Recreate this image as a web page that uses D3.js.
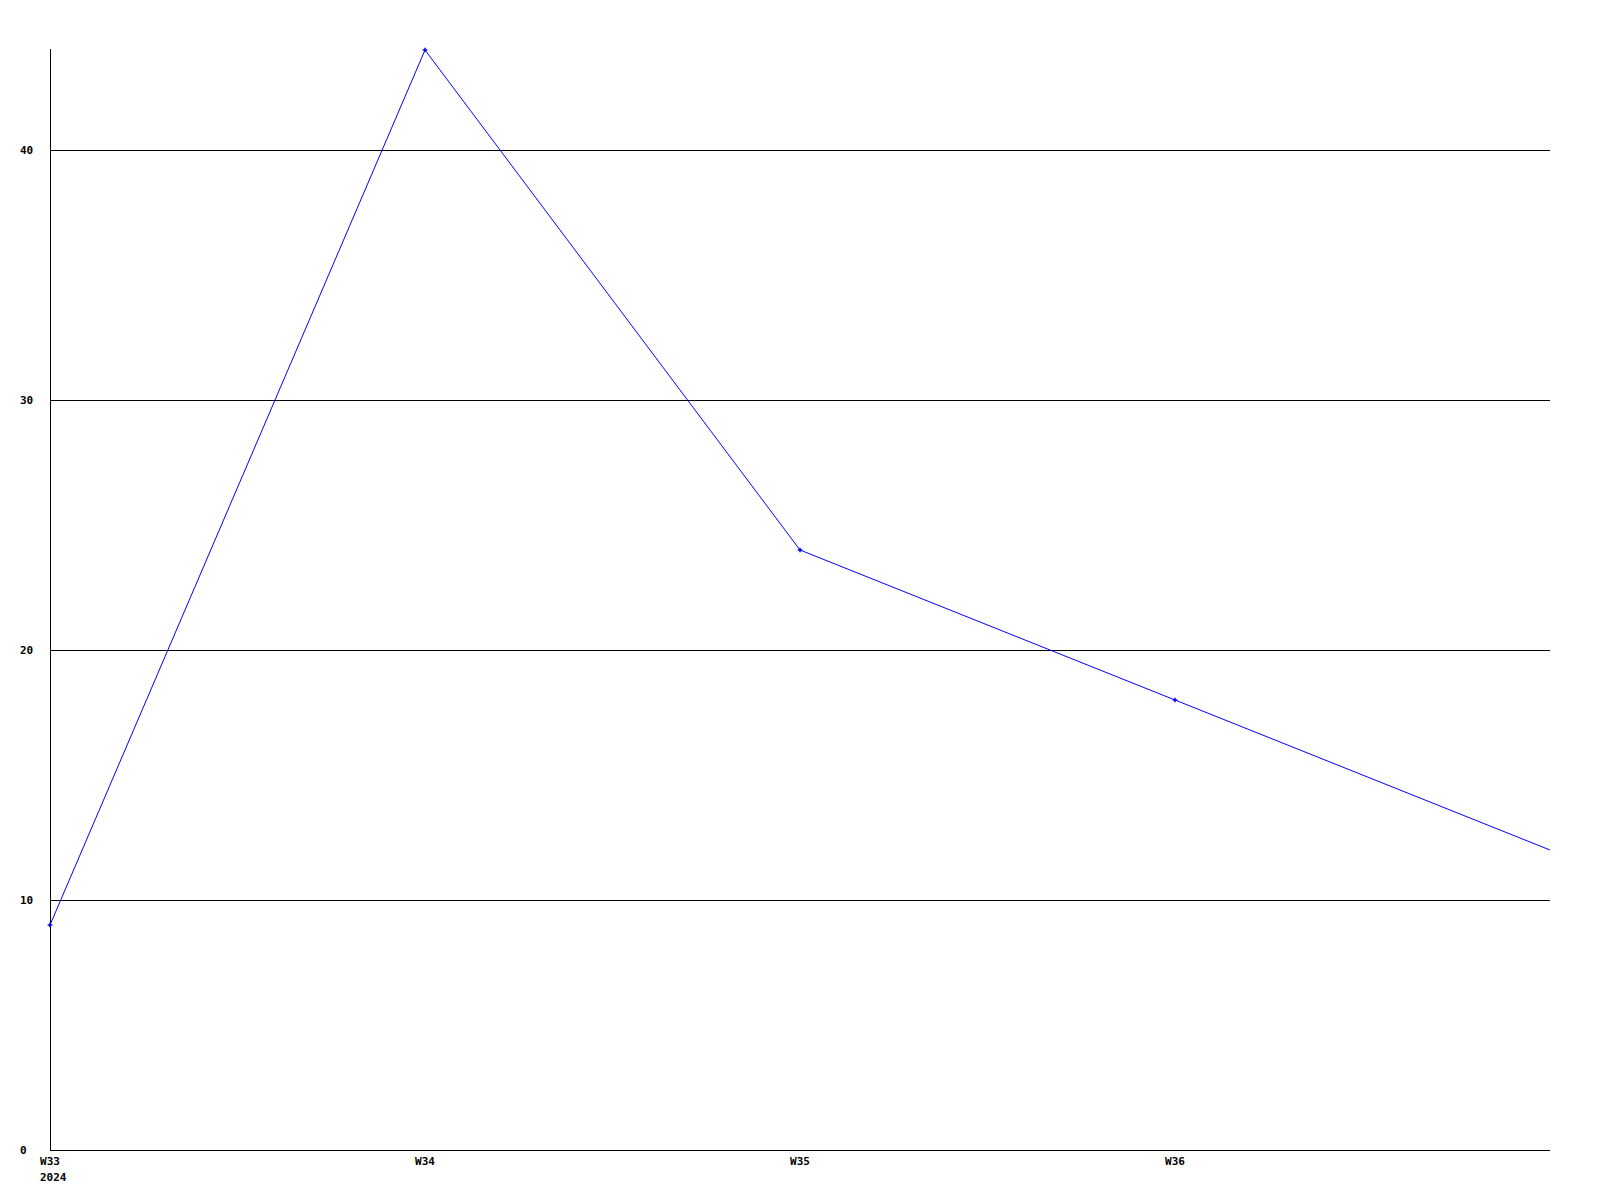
<!DOCTYPE html>
<html><head><meta charset="utf-8">
<script src="https://cdn.jsdelivr.net/npm/d3@7"></script>
<style>html,body{margin:0;padding:0;background:#fff;}</style>
</head><body>
<svg id="chart" width="1600" height="1200"></svg>
<script>
const weeks = ["W33", "W34", "W35", "W36", "W37"];
const values = [9, 44, 24, 18, 12];
const markerShown = [true, true, true, true, false];
const xTickLabels = ["W33", "W34", "W35", "W36"];
const yearLabel = "2024";
const yTicks = [0, 10, 20, 30, 40];

const svg = d3.select("#chart");
const x = d3.scaleLinear().domain([0, 4]).range([50, 1550]);
const y = d3.scaleLinear().domain([0, 44]).range([1150, 50]);
const font = "'DejaVu Sans Mono', monospace";

// gridlines
svg.append("g").selectAll("line").data(yTicks.filter(d => d > 0)).join("line")
  .attr("x1", x(0)).attr("x2", x(4))
  .attr("y1", d => Math.round(y(d)) + 0.5).attr("y2", d => Math.round(y(d)) + 0.5)
  .attr("stroke", "#000").attr("stroke-width", 1).attr("shape-rendering", "crispEdges");

// axes lines
svg.append("line").attr("x1", 50.5).attr("x2", 50.5).attr("y1", 49).attr("y2", 1150.5)
  .attr("stroke", "#000").attr("shape-rendering", "crispEdges");
svg.append("line").attr("x1", 50).attr("x2", 1550).attr("y1", 1150.5).attr("y2", 1150.5)
  .attr("stroke", "#000").attr("shape-rendering", "crispEdges");

// y labels (left-aligned)
svg.append("g").selectAll("text").data(yTicks).join("text")
  .attr("x", 20).attr("y", d => y(d)).attr("dy", "0.35em")
  .attr("text-anchor", "start")
  .attr("font-family", font).attr("font-weight", "bold").attr("font-size", 11)
  .text(d => d);

// x labels
svg.append("g").selectAll("text").data(xTickLabels).join("text")
  .attr("x", (d, i) => x(i)).attr("y", 1165)
  .attr("text-anchor", "middle")
  .attr("font-family", font).attr("font-weight", "bold").attr("font-size", 11)
  .text(d => d);
svg.append("text").attr("x", x(0) - 10).attr("y", 1181)
  .attr("font-family", font).attr("font-weight", "bold").attr("font-size", 11)
  .text(yearLabel);

// line
const line = d3.line().x((d, i) => x(i)).y(d => y(d));
svg.append("path").datum(values).attr("d", line)
  .attr("fill", "none").attr("stroke", "#0000ff").attr("stroke-width", 1);

// markers
svg.append("g").selectAll("path").data(values.map((v, i) => ({v, i})).filter(d => markerShown[d.i])).join("path")
  .attr("transform", d => `translate(${x(d.i)},${y(d.v)})`)
  .attr("d", d3.symbol().type(d3.symbolCross).size(12))
  .attr("fill", "#0000ff");
</script>
</body></html>
